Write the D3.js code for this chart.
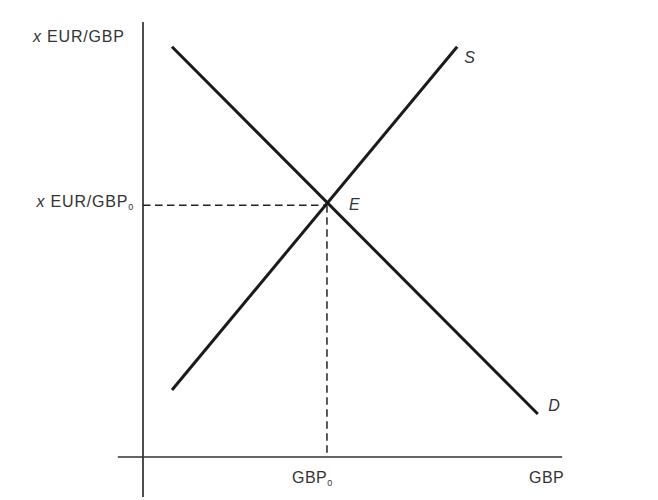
<!DOCTYPE html>
<html>
<head>
<meta charset="utf-8">
<script src="https://cdn.jsdelivr.net/npm/d3@7"></script>
<style>
  body { margin: 0; background: #fff; }
  text { font-family: "Liberation Sans", Arial, sans-serif; fill: #333; }
</style>
</head>
<body>
<div id="chart"></div>
<script>
// Curves in abstract units (0..100 on each axis)
const demand = [[6.9, 94.3], [94.0, 9.9]];
const supply = [[6.9, 15.4], [74.8, 94.3]];
const equilibrium = [43.8, 57.9];
const curveLabels = [
  { text: "S", at: [76.5, 90.5] },
  { text: "D", at: [96.5, 10.6] }
];
const yAxisExtent = [-9.2, 100];
const xAxisExtent = [-6, 99.8];

const width = 658, height = 500;

const svg = d3.select("#chart").append("svg")
  .attr("width", width)
  .attr("height", height);

const x = d3.scaleLinear().domain([0, 100]).range([143, 563]);
const y = d3.scaleLinear().domain([0, 100]).range([457, 22]);

const line = d3.line().x(d => x(d[0])).y(d => y(d[1]));

// axes
svg.append("line")
  .attr("x1", x(0)).attr("x2", x(0))
  .attr("y1", y(yAxisExtent[1])).attr("y2", y(yAxisExtent[0]))
  .attr("stroke", "#222").attr("stroke-width", 1.6);

svg.append("line")
  .attr("x1", x(xAxisExtent[0])).attr("x2", x(xAxisExtent[1]))
  .attr("y1", y(0)).attr("y2", y(0))
  .attr("stroke", "#333").attr("stroke-width", 1.6);

// dashed guides to equilibrium
svg.append("path")
  .attr("d", line([[0, equilibrium[1]], equilibrium]))
  .attr("stroke", "#222").attr("stroke-width", 1.5)
  .attr("stroke-dasharray", "7.5,4.5").attr("fill", "none");

svg.append("path")
  .attr("d", line([equilibrium, [equilibrium[0], 0]]))
  .attr("stroke", "#222").attr("stroke-width", 1.5)
  .attr("stroke-dasharray", "7.5,4.5").attr("fill", "none");

// supply and demand
[demand, supply].forEach(c => {
  svg.append("path")
    .attr("d", line(c))
    .attr("stroke", "#1a1a1a").attr("stroke-width", 3)
    .attr("fill", "none");
});

curveLabels.forEach(l => {
  svg.append("text")
    .attr("x", x(l.at[0])).attr("y", y(l.at[1]))
    .style("font-size", "16px").style("font-style", "italic")
    .text(l.text);
});

svg.append("text")
  .attr("x", x(equilibrium[0]) + 22).attr("y", y(equilibrium[1]) + 5)
  .style("font-size", "16px").style("font-style", "italic")
  .text("E");

// axis labels
const yTitle = svg.append("text")
  .attr("x", 33).attr("y", 42)
  .style("font-size", "16px").style("letter-spacing", "0.8px");
yTitle.append("tspan").style("font-style", "italic").text("x");
yTitle.append("tspan").text(" EUR/GBP");

const yLabel = svg.append("text")
  .attr("x", 134).attr("y", 207)
  .attr("text-anchor", "end")
  .style("font-size", "16px").style("letter-spacing", "0.8px");
yLabel.append("tspan").style("font-style", "italic").text("x");
yLabel.append("tspan").text(" EUR/GBP");
yLabel.append("tspan").attr("dy", 3).style("font-size", "9px").text("0");

const xLabel = svg.append("text")
  .attr("x", 292).attr("y", 483)
  .style("font-size", "16px").style("letter-spacing", "0.5px");
xLabel.append("tspan").text("GBP");
xLabel.append("tspan").attr("dy", 3).style("font-size", "9px").text("0");

svg.append("text")
  .attr("x", 529).attr("y", 483)
  .style("font-size", "16px").style("letter-spacing", "0.5px")
  .text("GBP");
</script>
</body>
</html>
